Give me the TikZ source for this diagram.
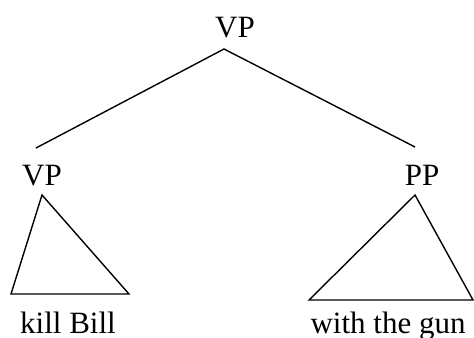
\documentclass[tikz,border=0pt]{standalone}
\usepackage{fontspec}
\setmainfont{Liberation Serif}
\usepackage{tikz}

\begin{document}
\begin{tikzpicture}[x=0.5pt,y=-0.5pt,line width=0.7pt,
    lbl/.style={anchor=base,inner sep=0pt,font=\fontsize{15.5}{18}\selectfont}]
  \useasboundingbox (0,0) rectangle (474,337);
  % labels
  \node[lbl] (top) at (235,37) {VP};
  \node[lbl] (vp) at (42,185) {VP};
  \node[lbl] (pp) at (422,185) {PP};
  \node[lbl] (kb) at (68,333) {kill Bill};
  \node[lbl] (wg) at (388,333) {with the gun};
  % branch ends
  \coordinate (T) at (224,49);
  \coordinate (L) at (36,148);
  \coordinate (R) at (415,147);
  \draw (L) -- (T) -- (R);
  % left triangle
  \coordinate (A1) at (42,195);
  \coordinate (B1) at (11,294);
  \coordinate (C1) at (129,294);
  \draw (A1) -- (B1) -- (C1) -- cycle;
  % right triangle
  \coordinate (A2) at (415,195);
  \coordinate (B2) at (309,300);
  \coordinate (C2) at (473,300);
  \draw (A2) -- (B2) -- (C2) -- cycle;
\end{tikzpicture}
\end{document}
